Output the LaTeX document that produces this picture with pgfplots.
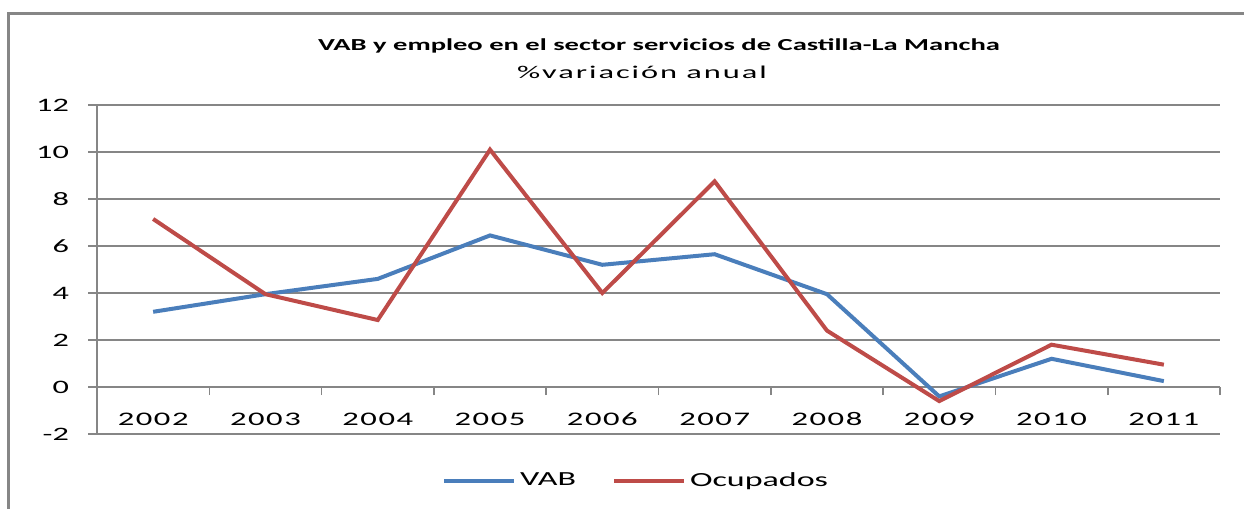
\documentclass[border=0pt]{standalone}
\usepackage{pgfplots}
\pgfplotsset{compat=1.18}
\usepackage{fontspec}
\setmainfont{Carlito}[FakeStretch=1.7]
\newfontfamily\spaced{Carlito}[FakeStretch=1.7, LetterSpace=8]
\newfontfamily\wide{Carlito}[FakeStretch=1.8, LetterSpace=11]
\definecolor{vabblue}{HTML}{4A7EBB}
\definecolor{ocred}{HTML}{BE4B48}
\definecolor{axgray}{HTML}{868686}
\begin{document}
\begin{tikzpicture}[x=1pt,y=1pt]
\useasboundingbox (0,0) rectangle (622,254.5);
\draw[axgray, line width=1.5pt] (4,0) -- (4,247.5) -- (622,247.5);
\node[font=\bfseries\fontsize{8.4}{10}\selectfont] at (329.5,231.5) {VAB y empleo en el sector servicios de Castilla-La Mancha};
\node[font=\wide\fontsize{9}{10}\selectfont] at (321,218.5) {\%variación anual};
\begin{axis}[
  at={(48.5pt,37.5pt)}, anchor=south west,
  scale only axis, width=561.5pt, height=164.5pt,
  xmin=0.5, xmax=10.5, ymin=-2, ymax=12,
  axis x line*=middle, axis y line*=left,
  axis line style={axgray, line width=0.6pt},
  ytick={-2,0,...,12},
  ymajorgrids, grid style={axgray, line width=0.6pt},
  xtick={1,...,10},
  xticklabels={2002,2003,2004,2005,2006,2007,2008,2009,2010,2011},
  minor xtick={0.5,1.5,...,10.5},
  major x tick style={draw=none},
  minor x tick style={axgray, line width=0.8pt},
  minor tick length=4pt,
  tick align=outside,
  y tick style={axgray, line width=0.6pt},
  major tick length=4.5pt,
  tick label style={black},
  yticklabel style={font=\fontsize{9.5}{10}\selectfont, xshift=-6pt},
  xticklabel style={font=\spaced\fontsize{9.6}{10}\selectfont, yshift=-4pt, text height=7pt, text depth=0pt},
  /pgf/number format/assume math mode=true,
  legend columns=2,
  legend style={draw=none, at={(0.481,-0.143)}, anchor=center,
    font=\fontsize{10}{12}\selectfont,
    /tikz/every even column/.append style={column sep=16pt}},
  legend image code/.code={\draw[#1, line width=2pt] (0pt,0pt) -- (35pt,0pt);},
]
\addplot[vabblue, line width=2pt] coordinates {
(1,3.2) (2,3.95) (3,4.6) (4,6.45) (5,5.2) (6,5.65) (7,3.95) (8,-0.4) (9,1.2) (10,0.25)};
\addlegendentry{VAB}
\addplot[ocred, line width=2pt] coordinates {
(1,7.15) (2,3.95) (3,2.85) (4,10.1) (5,4.0) (6,8.75) (7,2.4) (8,-0.6) (9,1.8) (10,0.95)};
\addlegendentry{Ocupados}
\end{axis}
\end{tikzpicture}
\end{document}
